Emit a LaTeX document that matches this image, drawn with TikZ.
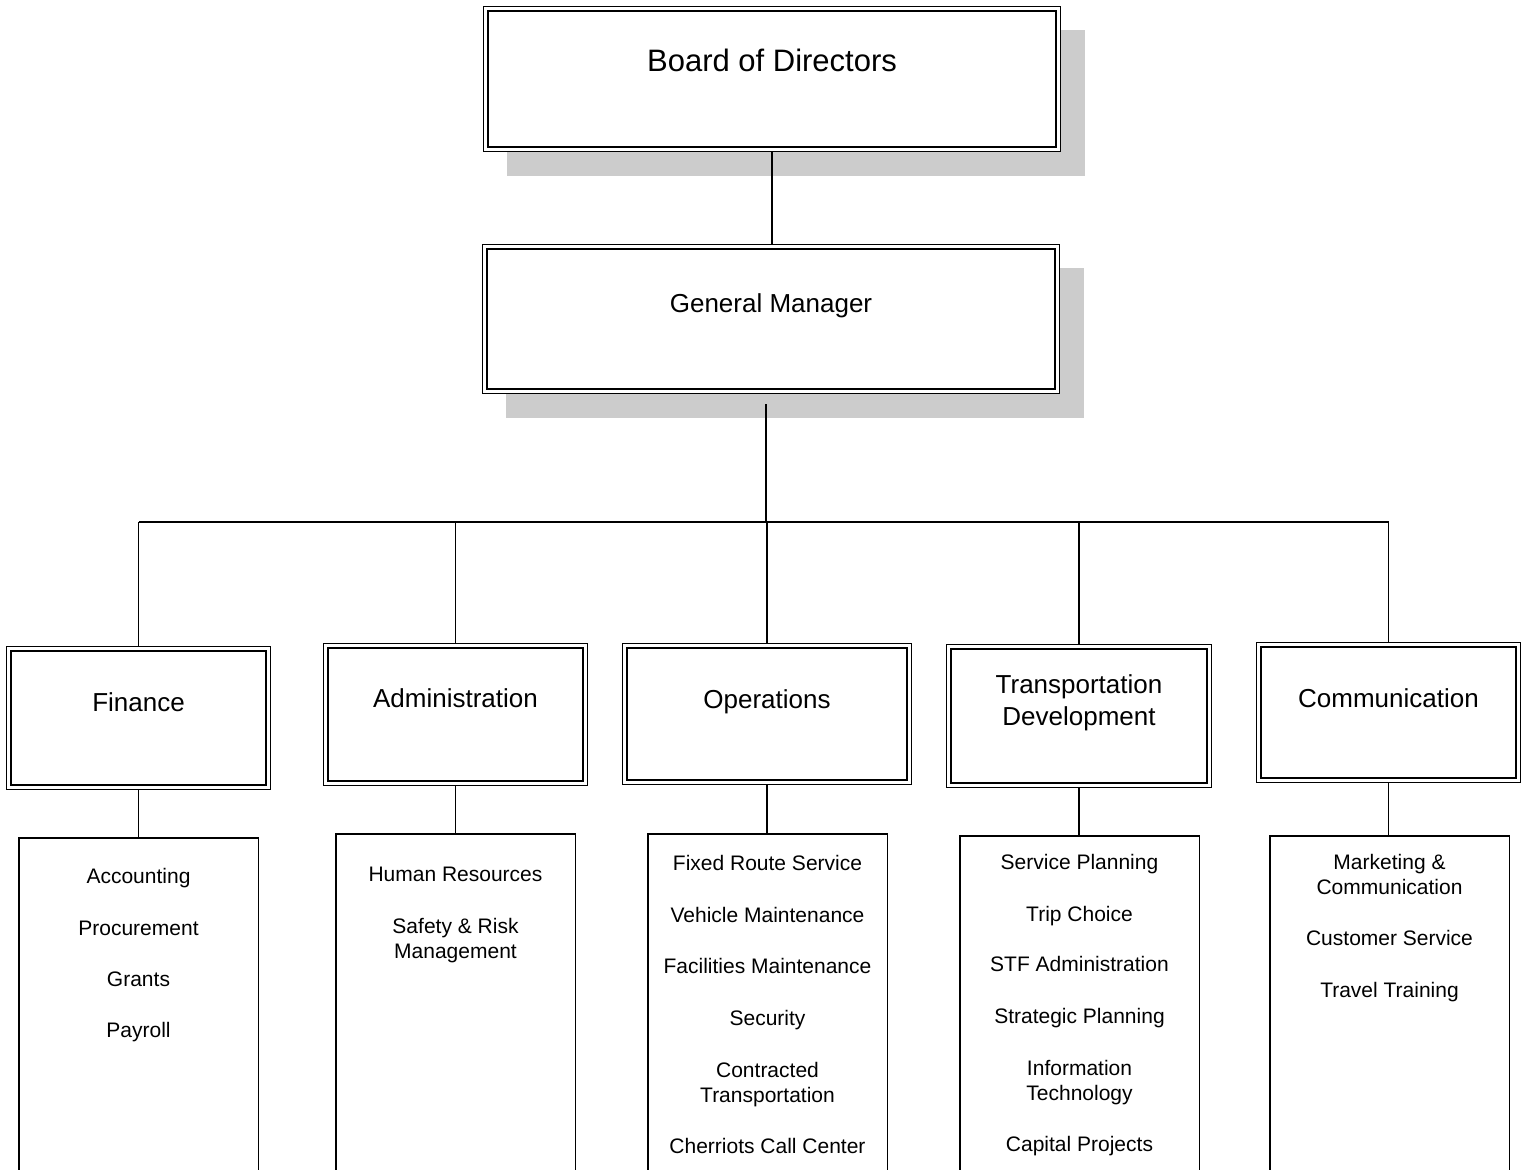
\documentclass[tikz,border=0pt]{standalone}
\usepackage{fontspec}
\setmainfont{Liberation Sans}
\definecolor{shadowgray}{HTML}{CCCCCC}
\begin{document}
\begin{tikzpicture}[x=1pt,y=-1pt,
  dbl/.style={rectangle, draw, double, double distance=3pt, line width=1.3pt, fill=white, inner sep=0pt, outer sep=2.8pt},
  subbox/.style={rectangle, draw, line width=1.5pt, fill=white, inner sep=0pt, outer sep=0.75pt, anchor=north, minimum width=239.5pt, minimum height=400pt},
  conn/.style={line width=1.4pt},
  bigtext/.style={font=\fontsize{31}{36}\selectfont, text height=22.3pt, text depth=0pt, inner sep=0pt},
  depttext/.style={font=\fontsize{26}{32}\selectfont, text height=18.6pt, text depth=0pt, inner sep=0pt, align=center},
  itemtext/.style={font=\fontsize{21}{25}\selectfont, text height=15pt, text depth=0pt, inner sep=0pt, align=center},
  twoline/.style={text height=40pt},
]
\useasboundingbox (0,0) rectangle (1530,1169);
\clip (0,0) rectangle (1530,1169);

% shadows
\fill[shadowgray] (507,30) rectangle (1085,176);
\fill[shadowgray] (506,268) rectangle (1084,418);

% top boxes
\node[dbl, minimum width=572.4pt, minimum height=140.4pt] (board) at (772,79) {};
\node[bigtext] (boardT) at (772,60) {Board of Directors};
\node[dbl, minimum width=572.4pt, minimum height=144.4pt] (gm) at (771,319) {};
\node[depttext] (gmT) at (771,303) {General Manager};

% departments
\node[dbl, minimum width=259.4pt, minimum height=138.4pt] (fin) at (138.5,718) {};
\node[dbl, minimum width=259.4pt, minimum height=137.4pt] (adm) at (455.5,714.5) {};
\node[dbl, minimum width=284.4pt, minimum height=136.4pt] (ops) at (767,714) {};
\node[dbl, minimum width=260.4pt, minimum height=138.4pt] (tdv) at (1079,716) {};
\node[dbl, minimum width=259.4pt, minimum height=135.4pt] (com) at (1388.5,712.5) {};

\node[depttext] (finT) at (138.5,702) {Finance};
\node[depttext] (admT) at (455.5,698) {Administration};
\node[depttext] (opsT) at (767,699) {Operations};
\node[depttext, text height=50.6pt] (tdvT) at (1079,700) {Transportation\\Development};
\node[depttext] (comT) at (1388.5,698) {Communication};

% sub boxes
\node[subbox] (finS) at (138.5,837) {};
\node[subbox] (admS) at (455.5,833) {};
\node[subbox] (opsS) at (767.5,833) {};
\node[subbox] (tdvS) at (1079.5,835) {};
\node[subbox] (comS) at (1389.5,835) {};

% connectors
\coordinate (trunkTop) at (766,404);
\coordinate (bus) at (766,522);
\draw[conn] (board.south) -- (board.south |- gm.north);
\draw[conn] (trunkTop) -- (bus);
\draw[conn] (fin.north |- bus) -- (com.north |- bus);
\foreach \d in {fin,adm,ops,tdv,com}{
  \draw[conn] (\d.north |- bus) -- (\d.north);
  \draw[conn] (\d.south) -- (\d.south |- \d S.north);
}

% items
\node[itemtext] (f1) at (138.5,876) {Accounting};
\node[itemtext] (f2) at (138.5,928) {Procurement};
\node[itemtext] (f3) at (138.5,979) {Grants};
\node[itemtext] (f4) at (138.5,1030) {Payroll};

\node[itemtext] (a1) at (455.5,874) {Human Resources};
\node[itemtext, twoline] (a2) at (455.5,938.5) {Safety \& Risk\\Management};

\node[itemtext] (o1) at (767.5,863) {Fixed Route Service};
\node[itemtext] (o2) at (767.5,915) {Vehicle Maintenance};
\node[itemtext] (o3) at (767.5,966) {Facilities Maintenance};
\node[itemtext] (o4) at (767.5,1018) {Security};
\node[itemtext, twoline] (o5) at (767.5,1082) {Contracted\\Transportation};
\node[itemtext] (o6) at (767.5,1146) {Cherriots Call Center};

\node[itemtext] (t1) at (1079.5,862) {Service Planning};
\node[itemtext] (t2) at (1079.5,914) {Trip Choice};
\node[itemtext] (t3) at (1079.5,964) {STF Administration};
\node[itemtext] (t4) at (1079.5,1016) {Strategic Planning};
\node[itemtext, twoline] (t5) at (1079.5,1080.5) {Information\\Technology};
\node[itemtext] (t6) at (1079.5,1144) {Capital Projects};

\node[itemtext, twoline] (c1) at (1389.5,874.5) {Marketing \&\\Communication};
\node[itemtext] (c2) at (1389.5,938) {Customer Service};
\node[itemtext] (c3) at (1389.5,990) {Travel Training};
\end{tikzpicture}
\end{document}
